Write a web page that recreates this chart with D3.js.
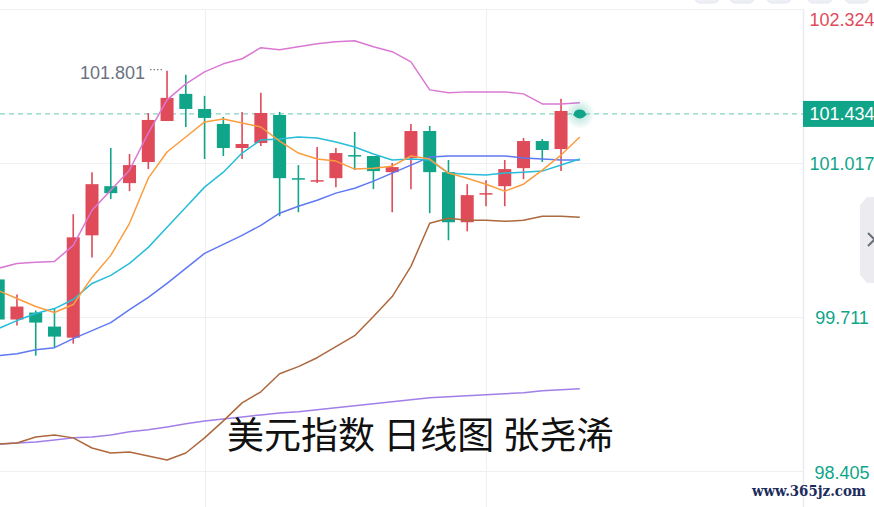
<!DOCTYPE html>
<html>
<head>
<meta charset="utf-8">
<script src="https://cdn.jsdelivr.net/npm/d3@7"></script>
<style>
html,body{margin:0;padding:0;background:#fff;overflow:hidden;}
svg{display:block;}
</style>
</head>
<body>
<svg id="chart" width="874" height="507"></svg>
<script>
// ---- data ----
const opens  = [100.030, 99.690, 99.749, 99.630, 99.536, 100.404, 100.821, 100.847, 101.026, 101.374, 101.604, 101.476, 101.349, 101.145, 101.187, 101.425, 100.889, 100.864, 100.889, 101.085, 101.077, 100.940, 101.060, 101.289, 100.940, 100.515, 100.753, 100.821, 100.974, 101.204, 101.136, 101.434];
const highs  = [100.090, 99.902, 99.766, 99.783, 100.583, 100.940, 101.145, 101.094, 101.442, 101.801, 101.766, 101.587, 101.408, 101.451, 101.613, 101.451, 101.000, 101.153, 101.145, 101.281, 101.077, 101.017, 101.349, 101.332, 101.043, 100.838, 100.872, 101.043, 101.230, 101.221, 101.562, 101.440];
const lows   = [99.664, 99.639, 99.383, 99.451, 99.485, 100.217, 100.711, 100.779, 100.966, 101.374, 101.323, 101.051, 101.077, 101.051, 101.162, 100.566, 100.600, 100.847, 100.813, 100.957, 100.796, 100.600, 100.796, 100.592, 100.362, 100.438, 100.651, 100.651, 100.881, 101.026, 100.949, 101.428];
const closes = [99.690, 99.800, 99.664, 99.545, 100.387, 100.838, 100.762, 101.000, 101.383, 101.570, 101.476, 101.400, 101.145, 101.179, 101.442, 100.889, 100.881, 100.872, 101.102, 101.077, 100.949, 100.983, 101.289, 100.940, 100.515, 100.745, 100.762, 100.966, 101.204, 101.128, 101.459, 101.434];

const bollUpper = [100.124, 100.166, 100.175, 100.183, 100.319, 100.617, 100.787, 100.957, 101.272, 101.553, 101.689, 101.791, 101.859, 101.902, 101.996, 101.979, 102.004, 102.030, 102.047, 102.055, 102.004, 101.962, 101.876, 101.638, 101.613, 101.621, 101.621, 101.621, 101.604, 101.519, 101.519, 101.528];
const bollMid   = [99.383, 99.400, 99.434, 99.451, 99.528, 99.596, 99.664, 99.774, 99.877, 99.996, 100.124, 100.251, 100.328, 100.404, 100.489, 100.592, 100.651, 100.702, 100.762, 100.804, 100.864, 100.932, 101.000, 101.068, 101.077, 101.077, 101.077, 101.077, 101.060, 101.051, 101.043, 101.043];
const bollLower = [98.634, 98.643, 98.694, 98.711, 98.686, 98.600, 98.558, 98.566, 98.532, 98.498, 98.558, 98.686, 98.830, 98.983, 99.077, 99.230, 99.290, 99.366, 99.460, 99.553, 99.715, 99.885, 100.141, 100.506, 100.549, 100.532, 100.532, 100.523, 100.532, 100.566, 100.566, 100.558];
const ma5  = [99.936, 99.868, 99.800, 99.749, 99.817, 100.047, 100.234, 100.506, 100.889, 101.111, 101.238, 101.366, 101.391, 101.357, 101.323, 101.204, 101.102, 101.051, 101.034, 100.966, 100.974, 100.991, 101.077, 101.051, 100.932, 100.889, 100.838, 100.779, 100.838, 100.957, 101.085, 101.238];
const ma10 = [99.613, 99.681, 99.741, 99.783, 99.860, 99.996, 100.064, 100.166, 100.302, 100.472, 100.643, 100.813, 100.940, 101.102, 101.213, 101.221, 101.238, 101.230, 101.196, 101.153, 101.094, 101.043, 101.051, 101.043, 100.932, 100.923, 100.915, 100.932, 100.940, 100.949, 101.000, 101.051];
const ma60 = [98.634, 98.643, 98.651, 98.668, 98.686, 98.694, 98.711, 98.737, 98.754, 98.779, 98.805, 98.830, 98.847, 98.864, 98.881, 98.898, 98.907, 98.924, 98.941, 98.958, 98.975, 98.992, 99.009, 99.026, 99.034, 99.043, 99.051, 99.060, 99.068, 99.085, 99.094, 99.102];

const yTicks = [98.405, 99.711, 101.017, 102.324];
const lastPrice = 101.434;
const highLabel = 101.801;
const gridDays = [11, 26];
const title = "美元指数 日线图 张尧浠";
const site = "www.365jz.com";

// ---- layout ----
const W = 874, H = 507, axisX = 803;
const RED = "#df4b59", GREEN = "#10a589";

const svg = d3.select("#chart");
const idx = d3.range(closes.length);
const x = d3.scaleLinear().domain([0, closes.length - 1]).range([-1.8, 579.8]);
const y = d3.scaleLinear().domain([98.405, 102.324]).range([471, 9]);
const bodyW = 13;

// top toolbar stubs
const btns = [695, 730, 767, 808, 845];
svg.append("g").selectAll("rect").data(btns).join("rect")
  .attr("x", d => d).attr("y", -12).attr("width", 24).attr("height", 15)
  .attr("rx", 5).attr("fill", "#eef0f5").attr("stroke", "#e3e6ee");

// grid
const grid = svg.append("g");
grid.selectAll("line.h").data(yTicks).join("line")
  .attr("x1", 0).attr("x2", axisX)
  .attr("y1", d => Math.round(y(d)) + 0.5).attr("y2", d => Math.round(y(d)) + 0.5)
  .attr("stroke", "#f0f0f4").attr("stroke-width", 1.2);
grid.selectAll("line.v").data(gridDays).join("line")
  .attr("x1", d => Math.round(x(d)) + 0.5).attr("x2", d => Math.round(x(d)) + 0.5)
  .attr("y1", y(102.324)).attr("y2", H)
  .attr("stroke", "#f0f0f4").attr("stroke-width", 1.2);
svg.append("line").attr("x1", axisX + 0.5).attr("x2", axisX + 0.5)
  .attr("y1", y(102.324)).attr("y2", H).attr("stroke", "#eaeaf0").attr("stroke-width", 1.5);

// current price dashed line
svg.append("line").attr("x1", 0).attr("x2", axisX)
  .attr("y1", y(lastPrice)).attr("y2", y(lastPrice))
  .attr("stroke", "#84d4c2").attr("stroke-width", 1.2).attr("stroke-dasharray", "5,4");

// candles
const cg = svg.append("g");
const col = i => closes[i] >= opens[i] && i !== closes.length - 1 ? RED : GREEN;
cg.selectAll("line.wick").data(idx).join("line")
  .attr("x1", i => x(i)).attr("x2", i => x(i))
  .attr("y1", i => y(highs[i])).attr("y2", i => y(lows[i]))
  .attr("stroke", col).attr("stroke-width", 1.6);
cg.selectAll("rect.body").data(idx).join("rect")
  .attr("x", i => x(i) - bodyW / 2).attr("width", bodyW)
  .attr("y", i => y(Math.max(opens[i], closes[i])))
  .attr("height", i => Math.max(1.5, Math.abs(y(opens[i]) - y(closes[i]))))
  .attr("fill", col);

// indicator lines
const lineGen = arr => d3.line().x(i => x(i)).y(i => y(arr[i]))(idx);
const series = [
  [ma60, "#a17fe9"],
  [bollLower, "#ad683d"],
  [bollMid, "#5f78f3"],
  [ma10, "#27bdd8"],
  [ma5, "#fb9d3e"],
  [bollUpper, "#da78d3"]
];
svg.append("g").selectAll("path").data(series).join("path")
  .attr("d", d => lineGen(d[0])).attr("fill", "none")
  .attr("stroke", d => d[1]).attr("stroke-width", 1.5).attr("stroke-linejoin", "round");

// high label
const hiI = highs.indexOf(highLabel);
svg.append("line").attr("x1", x(hiI) - 17).attr("x2", x(hiI) - 4)
  .attr("y1", y(highLabel) - 1).attr("y2", y(highLabel) - 1)
  .attr("stroke", "#777c8a").attr("stroke-width", 1.3).attr("stroke-dasharray", "1.5,2");
svg.append("text").attr("x", x(hiI) - 22).attr("y", y(highLabel) + 8)
  .attr("text-anchor", "end").attr("font-family", "Liberation Sans, Arial, sans-serif")
  .attr("font-size", 18).attr("fill", "#6d7282").text(highLabel.toFixed(3));

// pulse marker
const defs = svg.append("defs");
const rg = defs.append("radialGradient").attr("id", "glow");
rg.append("stop").attr("offset", "0%").attr("stop-color", GREEN).attr("stop-opacity", 0.35);
rg.append("stop").attr("offset", "100%").attr("stop-color", GREEN).attr("stop-opacity", 0);
const lastI = closes.length - 1;
svg.append("circle").attr("cx", x(lastI)).attr("cy", y(lastPrice)).attr("r", 15).attr("fill", "url(#glow)");
svg.append("ellipse").attr("cx", x(lastI)).attr("cy", y(lastPrice)).attr("rx", 6).attr("ry", 4.5).attr("fill", GREEN);

// right axis labels
const axis = d3.axisRight(y).tickValues(yTicks).tickSize(0).tickFormat(d3.format(".3f"));
const ag = svg.append("g").attr("transform", `translate(${axisX},0)`).call(axis);
ag.select(".domain").remove();
ag.selectAll(".tick text")
  .attr("x", 39).attr("text-anchor", "middle")
  .attr("dy", "0.35em")
  .attr("font-family", "Liberation Sans, Arial, sans-serif").attr("font-size", 18)
  .attr("fill", d => d > lastPrice ? RED : GREEN);
ag.selectAll(".tick").filter(d => d === 102.324).attr("transform", `translate(0,20)`);
ag.selectAll(".tick").filter(d => d === 98.405).attr("transform", `translate(0,${y(98.405) + 2})`);

// current price box
svg.append("rect").attr("x", axisX).attr("y", y(lastPrice) - 13).attr("width", W - axisX + 2).attr("height", 26).attr("fill", GREEN);
svg.append("text").attr("x", axisX + 39).attr("y", y(lastPrice)).attr("dy", "0.35em")
  .attr("text-anchor", "middle").attr("font-family", "Liberation Sans, Arial, sans-serif")
  .attr("font-size", 18).attr("fill", "#fff").text(lastPrice.toFixed(3));

// side tab
svg.append("path").attr("d", "M860,205 L867,197 L876,197 L876,283 L867,283 L860,275 Z").attr("fill", "#ebebf0");
svg.append("path").attr("d", "M868,233 L875,240 M868,246 L875,239").attr("stroke", "#6b6f7a").attr("stroke-width", 2).attr("fill", "none");

// watermark texts
svg.append("text").attr("x", 227).attr("y", 449)
  .attr("font-family", "Noto Sans CJK SC, sans-serif").attr("font-size", 37)
  .attr("fill", "#111").text(title);
svg.append("text").attr("x", 752).attr("y", 496)
  .attr("font-family", "DejaVu Serif, serif").attr("font-weight", "bold").attr("font-size", 15)
  .attr("textLength", 114).attr("lengthAdjust", "spacingAndGlyphs")
  .attr("fill", "#1b2c5c").text(site);
</script>
</body>
</html>
